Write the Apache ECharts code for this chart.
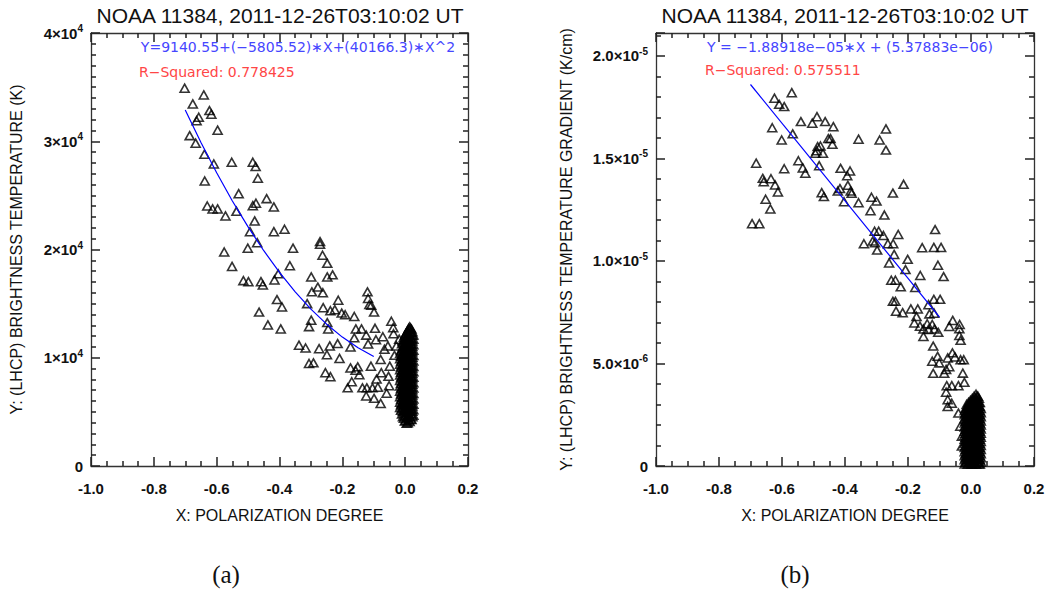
<!DOCTYPE html>
<html><head><meta charset="utf-8">
<script src="https://cdn.jsdelivr.net/npm/echarts@6/dist/echarts.min.js"></script>
<style>html,body{margin:0;padding:0;background:#fff}#c{width:1060px;height:590px}</style>
</head><body><div id="c"></div>
<script>
// ---------------- DATA ----------------
const titleText = 'NOAA 11384, 2011-12-26T03:10:02 UT';
const xTickLabels = ['-1.0', '-0.8', '-0.6', '-0.4', '-0.2', '0.0', '0.2'];
const leftYTickMantissa = ['0', '1', '2', '3', '4'];          // ×10^4
const rightYTickLabels = [['0', ''], ['5.0', '-6'], ['1.0', '-5'], ['1.5', '-5'], ['2.0', '-5']];
const leftEq = 'Y=9140.55+(\u22125805.52)\u2217X+(40166.3)\u2217X^2';
const leftR2 = 'R\u2212Squared: 0.778425';
const rightEq = 'Y = \u22121.88918e\u221205\u2217X + (5.37883e\u221206)';
const rightR2 = 'R\u2212Squared: 0.575511';

// Panel (a): polarization degree vs brightness temperature (K)
const leftPoints = [
[-0.702,34900],[-0.641,34280],[-0.676,33450],[-0.623,32830],[-0.617,32500],[-0.657,32220],[-0.664,31900],
[-0.597,31020],[-0.686,30520],[-0.667,29820],[-0.639,28800],[-0.609,27900],[-0.552,28060],[-0.485,28060],
[-0.476,27660],[-0.469,26580],[-0.638,26330],[-0.530,25160],[-0.441,24700],[-0.630,24020],[-0.613,23750],
[-0.597,23750],[-0.485,24050],[-0.475,24270],[-0.418,23930],[-0.537,23530],[-0.572,23100],[-0.479,22640],
[-0.494,21650],[-0.418,21650],[-0.384,21870],[-0.471,20630],[-0.576,19770],[-0.501,20120],[-0.357,20120],
[-0.271,20730],[-0.271,20480],[-0.263,19470],
[-0.551,18440],[-0.515,17125],[-0.499,17030],[-0.459,17030],[-0.453,16720],[-0.416,17190],[-0.404,17750],
[-0.367,18500],[-0.248,18720],[-0.299,17470],[-0.248,17470],[-0.231,17660],[-0.278,16530],[-0.297,16090],
[-0.262,16000],[-0.408,15375],[-0.392,14690],[-0.312,15000],[-0.261,14625],[-0.238,14340],[-0.224,14440],
[-0.213,15310],[-0.202,14125],[-0.191,13970],[-0.162,13810],[-0.465,14220],[-0.437,13030],[-0.396,12660],
[-0.299,13470],[-0.306,12875],[-0.248,13250],[-0.245,12660],[-0.157,12660],[-0.139,12660],[-0.120,16090],
[-0.118,15470],[-0.114,14910],[-0.108,14840],[-0.099,14220],[-0.096,12720],[-0.124,12090],[-0.162,11840],
[-0.044,13375],[-0.038,12780],[-0.037,12220],[-0.071,11940],[-0.093,11660],[-0.118,11280],[-0.174,11000],
[-0.215,11310],[-0.240,11090],[-0.274,10840],[-0.338,11160],[-0.317,10900],[-0.249,10280],[-0.209,9940],
[-0.306,9470],[-0.292,9530],[-0.174,9060],[-0.151,9160],[-0.158,8840],[-0.146,8440],[-0.109,9220],
[-0.254,8625],[-0.238,8250],[-0.170,7780],[-0.183,7220],[-0.136,7220],[-0.122,7220],[-0.104,7220],
[-0.124,6470],[-0.099,6250],[-0.087,7280],[-0.091,8030],[-0.076,8625],[-0.078,9840],[-0.066,10780],
[-0.055,11090],[-0.078,5780],[-0.059,6720],[-0.051,7410],[-0.053,8280],[-0.049,9220],[-0.034,10220],
[-0.028,11090],[-0.019,11720]
];
// dense cluster near zero polarization, read column by column
const leftClusterX = [-0.016, -0.013, -0.010, -0.007, -0.004, -0.001, 0.002, 0.005, 0.008, 0.011, 0.014, 0.017, 0.020, 0.023, 0.026];
const leftClusterY = [
[5400,5900,6400,6900,7400,7900,8400,8900,9400,9900,10400],
[5150,5650,6150,6650,7150,7650,8150,8650,9150,9650,10150,10650],
[4800,5300,5800,6300,6800,7300,7800,8300,8800,9300,9800,10300,10800,11300],
[4550,5050,5550,6050,6550,7050,7550,8050,8550,9050,9550,10050,10550,11050,11550],
[4400,4900,5400,5900,6400,6900,7400,7900,8400,8900,9400,9900,10400,10900,11400,11900],
[4150,4650,5150,5650,6150,6650,7150,7650,8150,8650,9150,9650,10150,10650,11150,11650,12050],
[4200,4700,5200,5700,6200,6700,7200,7700,8200,8700,9200,9700,10200,10700,11200,11700,12200],
[3950,4450,4950,5450,5950,6450,6950,7450,7950,8450,8950,9450,9950,10450,10950,11450,11950,12350],
[4000,4500,5000,5500,6000,6500,7000,7500,8000,8500,9000,9500,10000,10500,11000,11500,12000,12500],
[4250,4750,5250,5750,6250,6750,7250,7750,8250,8750,9250,9750,10250,10750,11250,11750,12250,12700],
[4100,4600,5100,5600,6100,6600,7100,7600,8100,8600,9100,9600,10100,10600,11100,11600,12100,12600,12850],
[4350,4850,5350,5850,6350,6850,7350,7850,8350,8850,9350,9850,10350,10850,11350,11850,12350,12750],
[4300,4800,5300,5800,6300,6800,7300,7800,8300,8800,9300,9800,10300,10800,11300,11800,12300,12650],
[4550,5050,5550,6050,6550,7050,7550,8050,8550,9050,9550,10050,10550,11050,11550,12050,12400],
[4700,5200,5700,6200,6700,7200,7700,8200,8700,9200,9700,10200,10700,11200,11700,12100]
];
const leftFit = [[-0.70,32886],[-0.65,29884],[-0.60,27084],[-0.55,24484],[-0.50,22085],[-0.45,19887],
[-0.40,17889],[-0.35,16093],[-0.30,14497],[-0.25,13102],[-0.20,11908],[-0.15,10915],[-0.10,10123]];

// Panel (b): polarization degree vs brightness temperature gradient (units of 1e-5 K/cm)
const rightPoints = [
[-0.569,1.821],[-0.624,1.794],[-0.609,1.764],[-0.593,1.753],[-0.540,1.680],[-0.489,1.704],[-0.504,1.672],
[-0.463,1.680],[-0.437,1.655],[-0.631,1.650],[-0.601,1.590],[-0.566,1.620],[-0.453,1.597],[-0.446,1.597],
[-0.440,1.569],[-0.487,1.558],[-0.478,1.561],[-0.490,1.538],[-0.470,1.525],[-0.494,1.525],[-0.482,1.465],
[-0.548,1.489],[-0.534,1.454],[-0.526,1.428],[-0.593,1.450],[-0.682,1.477],[-0.661,1.403],[-0.658,1.387],
[-0.635,1.401],[-0.622,1.371],[-0.613,1.337],[-0.652,1.301],[-0.637,1.254],[-0.695,1.182],[-0.672,1.182],
[-0.414,1.452],[-0.384,1.439],[-0.393,1.416],[-0.416,1.353],[-0.423,1.341],[-0.391,1.369],[-0.382,1.341],
[-0.379,1.330],[-0.474,1.333],[-0.467,1.314],[-0.403,1.289],[-0.357,1.594],[-0.357,1.284],
[-0.270,1.644],[-0.290,1.590],[-0.270,1.541],
[-0.214,1.374],[-0.316,1.311],[-0.300,1.292],[-0.248,1.331],[-0.319,1.245],[-0.275,1.224],[-0.306,1.145],
[-0.293,1.145],[-0.278,1.124],[-0.231,1.129],[-0.340,1.084],[-0.312,1.097],[-0.305,1.089],[-0.298,1.053],
[-0.264,1.084],[-0.247,1.084],[-0.244,1.032],[-0.260,0.990],[-0.201,1.008],[-0.208,0.958],[-0.161,0.929],
[-0.114,1.153],[-0.118,1.066],[-0.095,1.066],[-0.155,1.065],[-0.105,0.979],[-0.087,0.924],[-0.253,0.906],
[-0.240,0.906],[-0.223,0.874],[-0.177,0.871],[-0.248,0.803],[-0.240,0.803],[-0.238,0.755],[-0.217,0.748],
[-0.191,0.766],[-0.169,0.766],[-0.173,0.729],[-0.180,0.698],[-0.162,0.682],[-0.151,0.668],[-0.151,0.632],
[-0.139,0.694],[-0.132,0.742],[-0.117,0.745],[-0.118,0.813],[-0.098,0.813],[-0.135,0.787],[-0.123,0.690],
[-0.116,0.668],[-0.104,0.652],[-0.135,0.666],[-0.069,0.681],[-0.058,0.710],[-0.036,0.690],[-0.037,0.669],
[-0.037,0.637],[-0.033,0.613],[-0.120,0.585],[-0.106,0.535],[-0.123,0.511],[-0.101,0.503],[-0.120,0.452],
[-0.085,0.452],[-0.079,0.471],[-0.069,0.484],[-0.074,0.527],[-0.059,0.552],[-0.051,0.532],[-0.033,0.518],
[-0.023,0.518],[-0.026,0.453],[-0.077,0.392],[-0.061,0.392],[-0.040,0.392],[-0.021,0.408],[-0.079,0.360],
[-0.074,0.323],[-0.074,0.290],[-0.061,0.306],[-0.040,0.258],[-0.034,0.194],[-0.029,0.145],[-0.029,0.097]
];
const rightClusterX = [-0.020, -0.017, -0.014, -0.011, -0.008, -0.005, -0.002, 0.001, 0.004, 0.007, 0.010, 0.013, 0.016, 0.019, 0.022, 0.025, 0.028, 0.031];
const rightClusterY = [
[0.01,0.03,0.05,0.07,0.09,0.11,0.13,0.15,0.17,0.19,0.21,0.23,0.25,0.27],
[0.02,0.04,0.06,0.08,0.10,0.12,0.14,0.16,0.18,0.20,0.22,0.24,0.26,0.28],
[0.02,0.04,0.06,0.08,0.10,0.12,0.14,0.16,0.18,0.20,0.22,0.24,0.26,0.28,0.30],
[0.01,0.03,0.05,0.07,0.09,0.11,0.13,0.15,0.17,0.19,0.21,0.23,0.25,0.27,0.29],
[0.01,0.03,0.05,0.07,0.09,0.11,0.13,0.15,0.17,0.19,0.21,0.23,0.25,0.27,0.29,0.31],
[0.02,0.04,0.06,0.08,0.10,0.12,0.14,0.16,0.18,0.20,0.22,0.24,0.26,0.28,0.30],
[0.02,0.04,0.06,0.08,0.10,0.12,0.14,0.16,0.18,0.20,0.22,0.24,0.26,0.28,0.30,0.32],
[0.01,0.03,0.05,0.07,0.09,0.11,0.13,0.15,0.17,0.19,0.21,0.23,0.25,0.27,0.29,0.31],
[0.01,0.03,0.05,0.07,0.09,0.11,0.13,0.15,0.17,0.19,0.21,0.23,0.25,0.27,0.29,0.31,0.33],
[0.02,0.04,0.06,0.08,0.10,0.12,0.14,0.16,0.18,0.20,0.22,0.24,0.26,0.28,0.30,0.32],
[0.02,0.04,0.06,0.08,0.10,0.12,0.14,0.16,0.18,0.20,0.22,0.24,0.26,0.28,0.30,0.32,0.34],
[0.01,0.03,0.05,0.07,0.09,0.11,0.13,0.15,0.17,0.19,0.21,0.23,0.25,0.27,0.29,0.31,0.33],
[0.01,0.03,0.05,0.07,0.09,0.11,0.13,0.15,0.17,0.19,0.21,0.23,0.25,0.27,0.29,0.31,0.33,0.35],
[0.02,0.04,0.06,0.08,0.10,0.12,0.14,0.16,0.18,0.20,0.22,0.24,0.26,0.28,0.30,0.32,0.34],
[0.02,0.04,0.06,0.08,0.10,0.12,0.14,0.16,0.18,0.20,0.22,0.24,0.26,0.28,0.30,0.32,0.34],
[0.01,0.03,0.05,0.07,0.09,0.11,0.13,0.15,0.17,0.19,0.21,0.23,0.25,0.27,0.29,0.31,0.33],
[0.01,0.03,0.05,0.07,0.09,0.11,0.13,0.15,0.17,0.19,0.21,0.23,0.25,0.27,0.29,0.31],
[0.02,0.04,0.06,0.08,0.10,0.12,0.14,0.16,0.18,0.20,0.22,0.24,0.26,0.28]
];
const rightFit = [[-0.70,1.8608],[-0.10,0.7267]];

// ---------------- CHART ----------------
function clusterPairs(xs, ys) {
  const out = [];
  xs.forEach((x, i) => ys[i].forEach(y => out.push([x, y])));
  return out;
}
const FONT = 'Liberation Sans';
const AX = '#333';
const tick = { show: true, inside: true, length: 9, lineStyle: { color: '#222', width: 1.5 } };
const minor = n => ({ show: true, splitNumber: n, length: 5, lineStyle: { color: '#222', width: 1.5 } });
function xAxis(gi, pos, labels) {
  return {
    type: 'value', gridIndex: gi, position: pos, min: -1, max: 0.2, interval: 0.2,
    axisLine: { show: true, onZero: false, lineStyle: { color: AX, width: 1.3 } },
    axisTick: tick, minorTick: minor(4),
    splitLine: { show: false },
    axisLabel: { show: labels, margin: 15, fontSize: 15, fontWeight: 'bold', color: '#111', fontFamily: FONT,
      formatter: v => xTickLabels[Math.round((v + 1) / 0.2)] || '' },
    name: labels ? 'X: POLARIZATION DEGREE' : '', nameLocation: 'middle', nameGap: 41,
    nameTextStyle: { fontSize: 16, color: '#111', fontFamily: FONT }
  };
}
function yAxisBase(gi, pos, labels, min, max, interval, minorSplit, formatter, name, nameGap) {
  return {
    type: 'value', gridIndex: gi, position: pos, min, max, interval,
    axisLine: { show: true, onZero: false, lineStyle: { color: AX, width: 1.3 } },
    axisTick: tick, minorTick: minor(minorSplit),
    splitLine: { show: false },
    axisLabel: { show: labels, margin: 8, fontSize: 15, fontWeight: 'bold', color: '#111', fontFamily: FONT,
      formatter,
      rich: {
        m: { fontSize: 15, fontWeight: 'bold', color: '#111', fontFamily: FONT },
        s: { fontSize: 10, fontWeight: 'bold', color: '#111', fontFamily: FONT, padding: [0, 0, 9, 0] }
      } },
    name: labels ? name : '', nameLocation: 'middle', nameGap,
    nameTextStyle: { fontSize: 16, color: '#111', fontFamily: FONT }
  };
}
const leftYFmt = v => {
  const i = Math.round(v / 10000);
  if (Math.abs(v - i * 10000) > 1) return '';
  return i === 0 ? '0' : '{m|' + leftYTickMantissa[i] + '\u00d710}{s|4}';
};
const rightYFmt = v => {
  const i = Math.round(v / 0.5);
  if (Math.abs(v - i * 0.5) > 1e-6 || i >= rightYTickLabels.length) return '';
  const t = rightYTickLabels[i];
  return i === 0 ? '0' : '{m|' + t[0] + '\u00d710}{s|' + t[1] + '}';
};
function scatter(xi, yi, data) {
  return { type: 'scatter', xAxisIndex: xi, yAxisIndex: yi, data, symbol: 'triangle',
    symbolSize: [9, 8], itemStyle: { color: 'rgba(0,0,0,0)', borderColor: '#000', borderWidth: 1.6 } };
}
function fitLine(xi, yi, data) {
  return { type: 'line', xAxisIndex: xi, yAxisIndex: yi, data, showSymbol: false, symbol: 'none',
    lineStyle: { color: '#0000ff', width: 1.2 }, z: 5 };
}
function txt(x, y, text, font, fill, align) {
  return { type: 'text', x, y, silent: true, style: { text, font, fill,
    textAlign: align || 'center', textVerticalAlign: 'middle', align: align || 'center', verticalAlign: 'middle' } };
}

const chart = echarts.init(document.getElementById('c'), null, { renderer: 'svg' });
chart.setOption({
  animation: false,
  grid: [
    { left: 91, top: 33, width: 377, height: 433 },
    { left: 656, top: 33, width: 378, height: 433 }
  ],
  xAxis: [xAxis(0, 'bottom', true), xAxis(0, 'top', false), xAxis(1, 'bottom', true), xAxis(1, 'top', false)],
  yAxis: [
    yAxisBase(0, 'left', true, 0, 40000, 10000, 10, leftYFmt, 'Y: (LHCP) BRIGHTNESS TEMPERATURE (K)', 67),
    yAxisBase(0, 'right', false, 0, 40000, 10000, 10, leftYFmt, '', 0),
    yAxisBase(1, 'left', true, 0, 2.112, 0.5, 5, rightYFmt, 'Y: (LHCP) BRIGHTNESS TEMPERATURE GRADIENT (K/cm)', 82),
    yAxisBase(1, 'right', false, 0, 2.112, 0.5, 5, rightYFmt, '', 0)
  ],
  series: [
    scatter(0, 0, leftPoints),
    scatter(0, 0, clusterPairs(leftClusterX, leftClusterY)),
    fitLine(0, 0, leftFit),
    scatter(2, 2, rightPoints),
    scatter(2, 2, clusterPairs(rightClusterX, rightClusterY)),
    fitLine(2, 2, rightFit)
  ],
  graphic: [
    txt(280, 15, titleText, '21px "Liberation Sans"', '#111'),
    txt(845, 15, titleText, '21px "Liberation Sans"', '#111'),
    txt(298, 47, leftEq, '14px "DejaVu Sans"', '#4646ff'),
    txt(139, 72, leftR2, '14px "DejaVu Sans"', '#ff4646', 'left'),
    txt(850, 47, rightEq, '14px "DejaVu Sans"', '#4646ff'),
    txt(705, 70, rightR2, '14px "DejaVu Sans"', '#ff4646', 'left'),
    txt(226, 574, '(a)', '25px "Liberation Serif"', '#111'),
    txt(795, 574, '(b)', '25px "Liberation Serif"', '#111')
  ]
});
</script></body></html>
